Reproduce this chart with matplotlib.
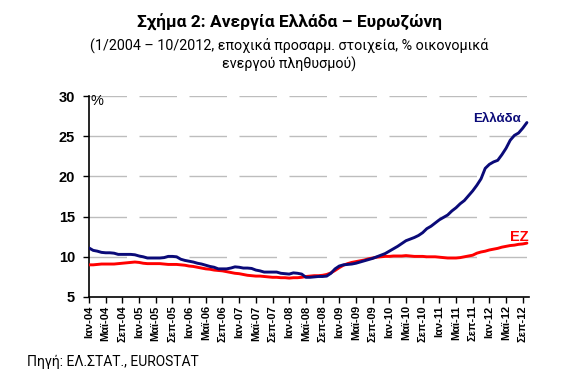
import matplotlib
matplotlib.use("Agg")
import matplotlib.pyplot as plt
import numpy as np

# ---- data (monthly, 1/2004 - 10/2012) ----
greece = [11.1, 10.8, 10.7, 10.55, 10.5, 10.5, 10.45, 10.3, 10.3, 10.3, 10.3, 10.25,
          10.1, 10.0, 9.85, 9.85, 9.85, 9.85, 9.9, 10.05, 10.05, 10.0, 9.7, 9.55,
          9.45, 9.35, 9.2, 9.1, 8.95, 8.8, 8.7, 8.5, 8.5, 8.5, 8.6, 8.75,
          8.7, 8.6, 8.6, 8.55, 8.35, 8.25, 8.1, 8.1, 8.1, 8.1, 7.95, 7.9,
          7.85, 8.0, 7.95, 7.85, 7.45, 7.45, 7.5, 7.55, 7.55, 7.6, 7.95, 8.5,
          8.85, 9.0, 9.05, 9.1, 9.2, 9.35, 9.5, 9.65, 9.8, 10.0, 10.2, 10.4,
          10.7, 11.0, 11.3, 11.65, 12.0, 12.2, 12.4, 12.65, 13.0, 13.5, 13.8, 14.2,
          14.6, 14.9, 15.2, 15.7, 16.1, 16.6, 17.0, 17.6, 18.2, 18.9, 19.7, 21.0,
          21.5, 21.8, 22.0, 22.7, 23.5, 24.5, 25.1, 25.4, 26.0, 26.7]
eurozone = [9.0, 9.0, 9.05, 9.1, 9.1, 9.1, 9.1, 9.15, 9.2, 9.25, 9.3, 9.35,
            9.3, 9.2, 9.15, 9.15, 9.15, 9.15, 9.1, 9.05, 9.05, 9.05, 9.0, 8.95,
            8.85, 8.8, 8.7, 8.6, 8.5, 8.45, 8.35, 8.3, 8.25, 8.15, 8.05, 7.95,
            7.9, 7.8, 7.7, 7.65, 7.6, 7.6, 7.55, 7.5, 7.45, 7.45, 7.4, 7.4,
            7.35, 7.4, 7.4, 7.45, 7.55, 7.6, 7.65, 7.65, 7.7, 7.8, 8.0, 8.3,
            8.65, 8.95, 9.15, 9.3, 9.4, 9.5, 9.6, 9.75, 9.85, 9.95, 10.0, 10.05,
            10.05, 10.1, 10.1, 10.1, 10.15, 10.1, 10.05, 10.05, 10.05, 10.0, 10.0, 10.0,
            9.95, 9.9, 9.85, 9.85, 9.85, 9.9, 10.0, 10.1, 10.2, 10.45, 10.6, 10.7,
            10.85, 10.95, 11.05, 11.2, 11.3, 11.4, 11.45, 11.55, 11.6, 11.7]

month_names = ["Ιαν", "Μαϊ", "Σεπ"]
years = ["04", "05", "06", "07", "08", "09", "10", "11", "12"]
tick_labels = [f"{m}-{y}" for y in years for m in month_names]
yticks = [5, 10, 15, 20, 25, 30]

title = "Σχήμα 2: Ανεργία Ελλάδα – Ευρωζώνη"
subtitle = "(1/2004 – 10/2012, εποχικά προσαρμ. στοιχεία, % οικονομικά\nενεργού πληθυσμού)"
source = "Πηγή: ΕΛ.ΣΤΑΤ., EUROSTAT"

# ---- figure ----
W, H = 579, 383
fig = plt.figure(figsize=(W / 100, H / 100), dpi=100)
ax = fig.add_axes([89 / W, 1 - 297 / H, (529 - 89) / W, (297 - 96) / H])

x = np.arange(len(greece))
NAVY = "#0a0a78"
RED = "#ff0000"

for v in yticks[1:]:
    ax.axhline(v, color="#bdbdbd", lw=1.0, dashes=(27, 9), zorder=1)

ax.plot(x, eurozone, color=RED, lw=2.1, zorder=3, solid_capstyle="round")
ax.plot(x, greece, color=NAVY, lw=2.1, zorder=4, solid_capstyle="round")

ax.set_xlim(0, 105.5)
ax.set_ylim(5, 30)
ax.set_yticks(yticks)
ax.set_yticklabels([str(v) for v in yticks], fontsize=10.5, fontweight="bold",
                   family="Liberation Sans")
tick_pos = list(range(0, len(tick_labels) * 4, 4))
ax.set_xticks(tick_pos)
ax.set_xticklabels(tick_labels, rotation=90, fontsize=8, fontweight="bold",
                   family="Liberation Sans")
ax.tick_params(axis="both", direction="out", length=4, width=1, color="black")
ax.tick_params(axis="y", pad=6)
ax.tick_params(axis="x", pad=2)

for s in ["top", "right"]:
    ax.spines[s].set_visible(False)
for s in ["left", "bottom"]:
    ax.spines[s].set_linewidth(1.2)

# in-plot labels
ax.text(0.003, 1.01, "%", transform=ax.transAxes, fontsize=10.5, color="black",
        family="Liberation Sans", ha="left", va="top")
fig.text(521 / W, 1 - 119 / H, "Ελλάδα", color=NAVY, fontsize=9.5, fontweight="bold",
         family="Liberation Sans", ha="right", va="center")
fig.text(529 / W, 1 - 237 / H, "EZ", color=RED, fontsize=10.5, fontweight="bold",
         family="Liberation Sans", ha="right", va="center")

# titles
fig.text(0.5, 1 - 22 / H, title, fontsize=12.5, fontweight="bold", family="Roboto",
         ha="center", va="center")
fig.text(0.5, 1 - 55 / H, subtitle, fontsize=10.3, family="Roboto",
         ha="center", va="center", linespacing=1.3)
fig.text(27 / W, 1 - 362 / H, source, fontsize=10, family="Roboto",
         ha="left", va="center")

fig.savefig("out.png", dpi=100)
